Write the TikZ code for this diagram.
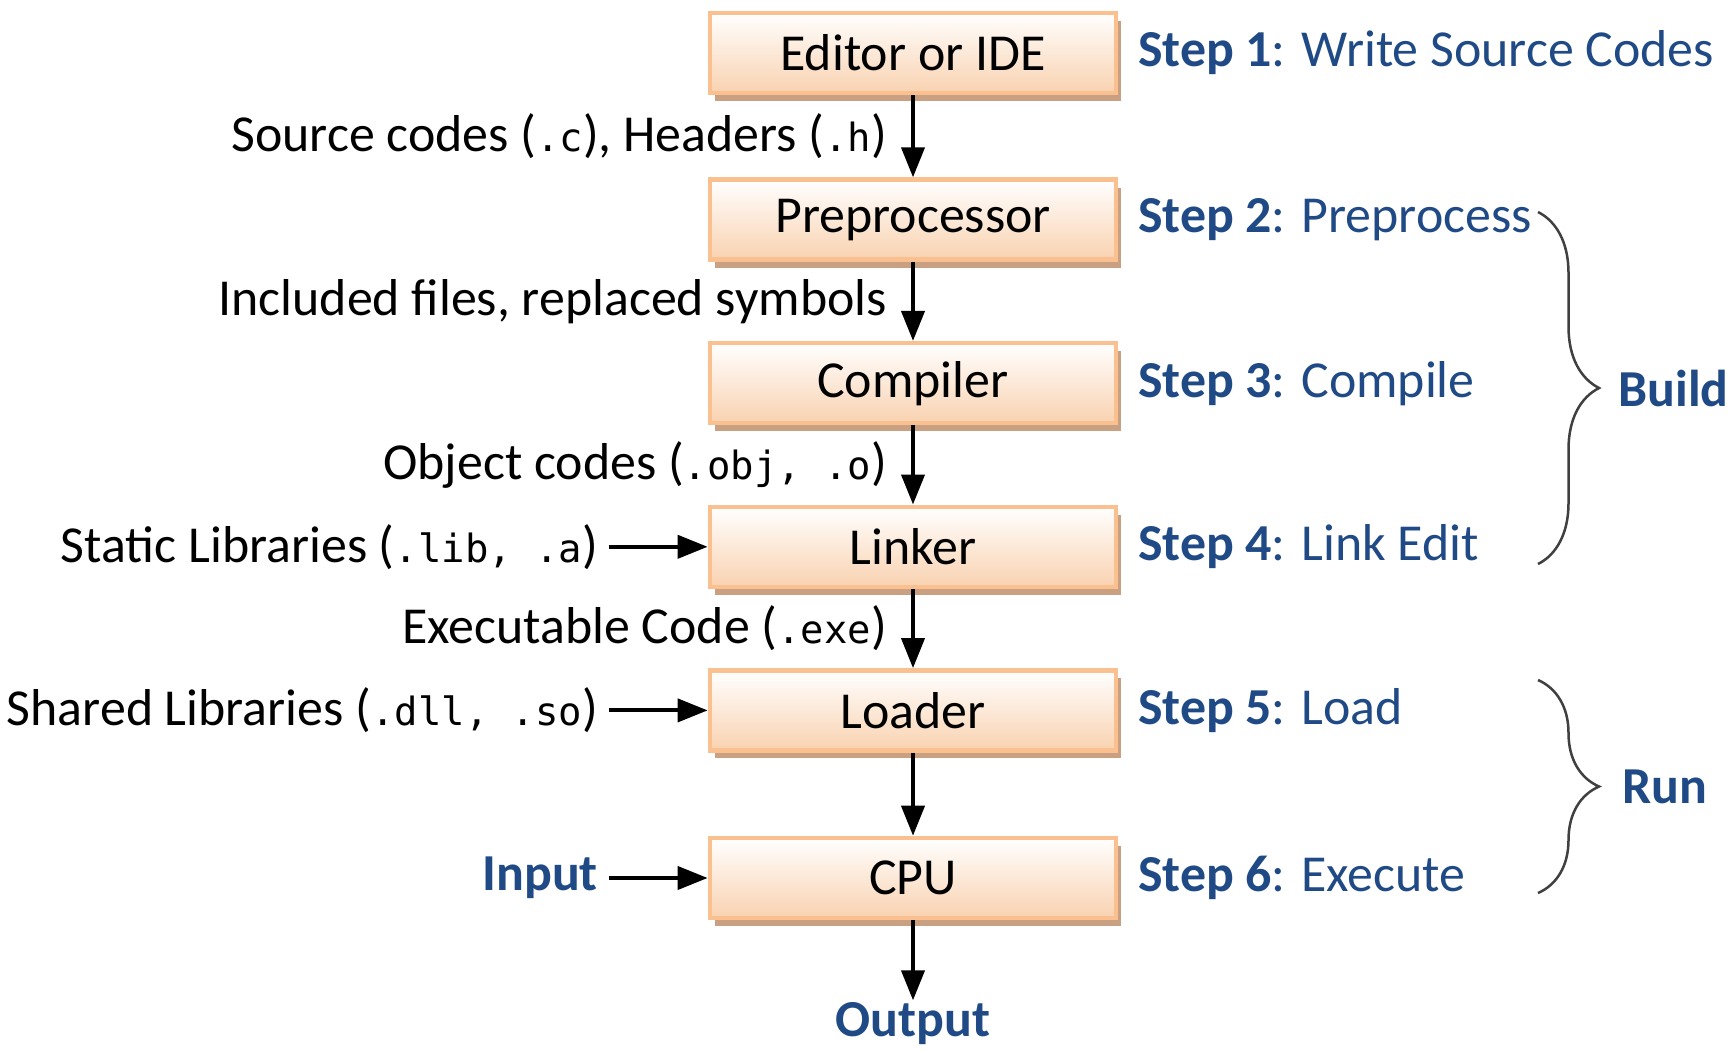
\documentclass[tikz,border=0pt]{standalone}
\usepackage{fontspec}
\setmainfont{Carlito}
\setmonofont[Scale=0.75]{DejaVu Sans Mono}
\usetikzlibrary{positioning,arrows.meta,shadows,decorations.pathreplacing}
\definecolor{boxline}{HTML}{FAC090}
\definecolor{boxfill}{HTML}{F9D2B0}
\definecolor{boxshadow}{HTML}{C9A082}
\definecolor{stepblue}{HTML}{1F4A86}
\tikzset{
	every node/.style={font=\fontsize{14.75}{17}\selectfont},
	stagebox/.style={draw=boxline, line width=0.045cm, top color=white, bottom color=boxfill,
		minimum width=4.06cm, minimum height=0.8cm, inner sep=0pt,
		drop shadow={shadow xshift=0.05cm, shadow yshift=-0.08cm, fill=boxshadow, opacity=1}},
	flow/.style={-{Triangle[length=0.3cm,width=0.23cm]}, line width=0.04cm},
	edgelabel/.style={left=0.24cm, inner sep=0pt},
	srclabel/.style={inner sep=0.1cm},
	steplabel/.style={right=0.19cm, inner sep=0pt, text=stepblue},
	bluebold/.style={text=stepblue, font=\fontsize{14.75}{17}\selectfont\bfseries},
	curlybrace/.style={decorate, decoration={brace, amplitude=0.61cm}, line width=0.025cm, black!75}
}
\begin{document}
\begin{tikzpicture}[x=0.01cm, y=-0.01cm]
		\pgfmathsetmacro{\gap}{0.79}
		\useasboundingbox (0,0) rectangle (1733,1050);
		\node[stagebox] (editor) at (913,53) {Editor or IDE};
		\node[stagebox, below=0.82cm of editor] (prep) {Preprocessor};
		\node[stagebox, below=\gap cm of prep] (compiler) {Compiler};
		\node[stagebox, below=\gap cm of compiler] (linker) {Linker};
		\node[stagebox, below=\gap cm of linker] (loader) {Loader};
		\node[stagebox, below=0.83cm of loader] (cpu) {CPU};
		\node[bluebold, inner sep=0.01cm, below=0.8cm of cpu] (output) {Output};
		\node[srclabel, left=0.99cm of linker] (static) {Static Libraries (\texttt{.lib, .a})};
		\node[srclabel, left=0.99cm of loader] (shared) {Shared Libraries (\texttt{.dll, .so})};
		\node[srclabel, bluebold, left=0.99cm of cpu] (input) {Input};
		\draw[flow] (editor) -- node[edgelabel] {Source codes (\texttt{.c}), Headers (\texttt{.h})} (prep);
		\draw[flow] (prep) -- node[edgelabel] {Included files, replaced symbols} (compiler);
		\draw[flow] (compiler) -- node[edgelabel] {Object codes (\texttt{.obj, .o})} (linker);
		\draw[flow] (linker) -- node[edgelabel] {Executable Code (\texttt{.exe})} (loader);
		\draw[flow] (loader) -- (cpu);
		\draw[flow] (cpu) -- (output);
		\draw[flow] (static) -- (linker);
		\draw[flow] (shared) -- (loader);
		\draw[flow] (input) -- (cpu);
		\node[steplabel] (s1) at (editor.east) {\textbf{Step 1}: Write Source Codes};
		\node[steplabel] (s2) at (prep.east) {\textbf{Step 2}: Preprocess};
		\node[steplabel] (s3) at (compiler.east) {\textbf{Step 3}: Compile};
		\node[steplabel] (s4) at (linker.east) {\textbf{Step 4}: Link Edit};
		\node[steplabel] (s5) at (loader.east) {\textbf{Step 5}: Load};
		\node[steplabel] (s6) at (cpu.east) {\textbf{Step 6}: Execute};
		\draw[curlybrace] (1538,212) -- node[bluebold, right=0.79cm, inner sep=0pt] (build) {Build} (1538,564);
		\draw[curlybrace] (1538,680) -- node[bluebold, right=0.83cm, inner sep=0pt] (run) {Run} (1538,893);
	\end{tikzpicture}
\end{document}
